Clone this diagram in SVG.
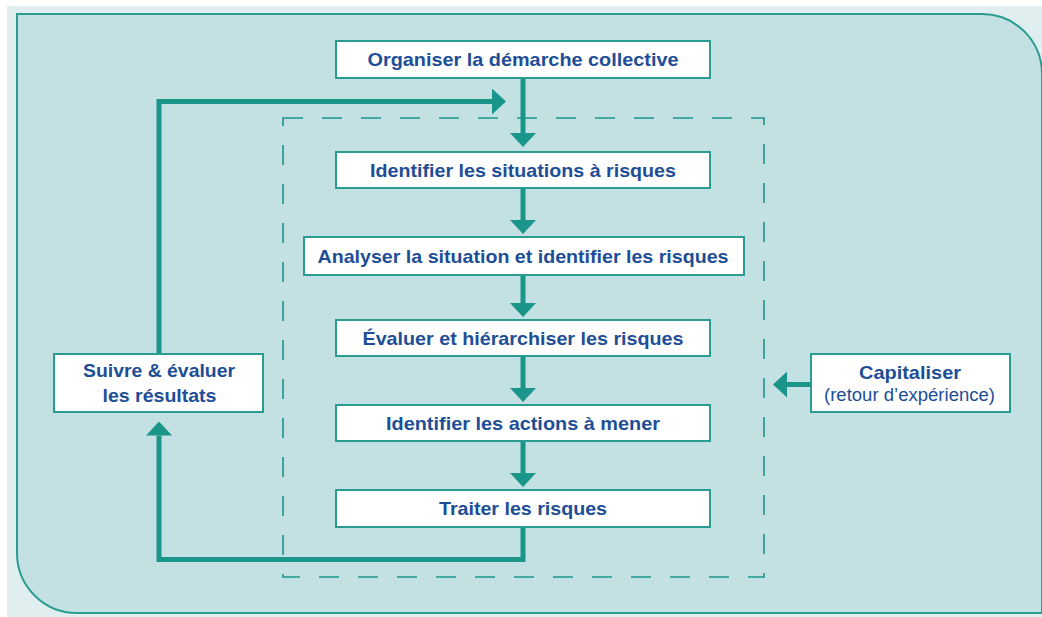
<svg xmlns="http://www.w3.org/2000/svg" width="1042" height="617" viewBox="0 0 1042 617">
<style>
.box{fill:#ffffff;stroke:#2a9d92;stroke-width:2}
.t{font-family:"Liberation Sans",Arial,sans-serif;font-weight:bold;font-size:19px;fill:#1d4e96;text-anchor:middle}
.r{font-family:"Liberation Sans",Arial,sans-serif;font-weight:normal;font-size:18px;fill:#1d4e96;text-anchor:middle}
.c{fill:none;stroke:#1a958a;stroke-width:5;stroke-linejoin:miter}
</style>
<defs>
<marker id="ah" viewBox="0 0 14 26" refX="0" refY="13" markerWidth="14" markerHeight="26" markerUnits="userSpaceOnUse" orient="auto">
<path d="M0,0 L14,13 L0,26 Z" fill="#1a958a"/>
</marker>
</defs>
<rect x="0" y="0" width="1042" height="617" fill="#ffffff"/>
<rect x="7" y="6" width="1035" height="611" fill="#e0eef0"/>
<path d="M17,14 H982 A60,60 0 0 1 1042,74 V613 H77 A60,60 0 0 1 17,553 Z" fill="#c3e1e2" stroke="#2a9d92" stroke-width="2"/>
<rect x="283" y="118" width="481" height="459" fill="none" stroke="#1a958a" stroke-width="1.6" stroke-dasharray="20 19"/>
<g id="connectors">
<path class="c" d="M523,78 V133" marker-end="url(#ah)"/>
<path class="c" d="M523,188 V220" marker-end="url(#ah)"/>
<path class="c" d="M523,275 V303" marker-end="url(#ah)"/>
<path class="c" d="M523,356 V388" marker-end="url(#ah)"/>
<path class="c" d="M523,441 V473" marker-end="url(#ah)"/>
<path class="c" d="M523,527 V559.5 H159 V435.5" marker-end="url(#ah)"/>
<path class="c" d="M159,354 V101.5 H492" marker-end="url(#ah)"/>
<path class="c" d="M811,384.5 H787" marker-end="url(#ah)"/>
</g>
<g id="n1"><rect class="box" x="336" y="41" width="374" height="37"/><text class="t" x="523" y="66" textLength="311" lengthAdjust="spacingAndGlyphs">Organiser la démarche collective</text></g>
<g id="n2"><rect class="box" x="336" y="152" width="374" height="36"/><text class="t" x="523" y="177" textLength="306" lengthAdjust="spacingAndGlyphs">Identifier les situations à risques</text></g>
<g id="n3"><rect class="box" x="304" y="237" width="440" height="38"/><text class="t" x="523" y="263" textLength="411" lengthAdjust="spacingAndGlyphs">Analyser la situation et identifier les risques</text></g>
<g id="n4"><rect class="box" x="336" y="320" width="374" height="36"/><text class="t" x="523" y="345" textLength="321" lengthAdjust="spacingAndGlyphs">Évaluer et hiérarchiser les risques</text></g>
<g id="n5"><rect class="box" x="336" y="405" width="374" height="36"/><text class="t" x="523" y="430" textLength="274" lengthAdjust="spacingAndGlyphs">Identifier les actions à mener</text></g>
<g id="n6"><rect class="box" x="336" y="490" width="374" height="37"/><text class="t" x="523" y="515" textLength="168" lengthAdjust="spacingAndGlyphs">Traiter les risques</text></g>
<g id="n7"><rect class="box" x="54" y="354" width="209" height="58"/><text class="t" x="159" y="377" textLength="152" lengthAdjust="spacingAndGlyphs">Suivre &amp; évaluer</text><text class="t" x="159.5" y="402" textLength="114" lengthAdjust="spacingAndGlyphs">les résultats</text></g>
<g id="n8"><rect class="box" x="811" y="354" width="199" height="58"/><text class="t" x="910" y="379" textLength="102" lengthAdjust="spacingAndGlyphs">Capitaliser</text><text class="r" x="909.5" y="401" textLength="171" lengthAdjust="spacingAndGlyphs">(retour d’expérience)</text></g>
</svg>
